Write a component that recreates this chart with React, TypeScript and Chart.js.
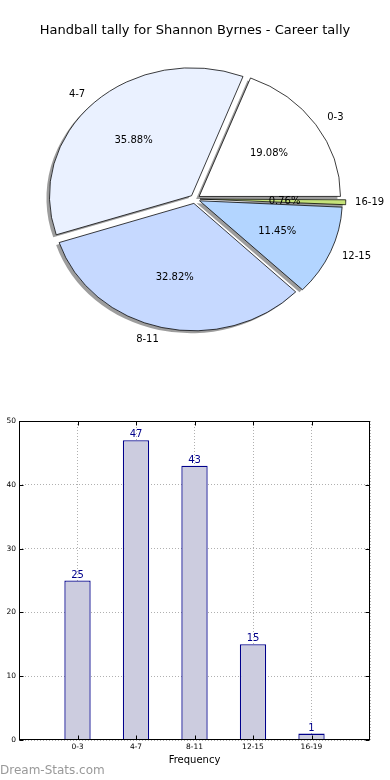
import React, { useEffect, useRef } from 'react';
import { Chart, registerables } from 'chart.js';

Chart.register(...registerables);

// ---- data ----
const categories = ['0-3', '4-7', '8-11', '12-15', '16-19'];
const counts = [25, 47, 43, 15, 1];
const sliceColors = ['#ffffff', '#eaf1ff', '#c6d9ff', '#b3d5ff', '#c5e27a'];
const yTicks = [0, 10, 20, 30, 40, 50];
const titleText = 'Handball tally for Shannon Byrnes - Career tally';
const xAxisTitle = 'Frequency';
const watermark = 'Dream-Stats.com';

const FONT = '"DejaVu Sans", sans-serif';
const Y_SCALE = 0.9;
const SHADOW_DX = -3;
const SHADOW_DY = 2.5;

// matplotlib draws counter-clockwise from 3 o'clock; Chart.js clockwise -> reverse order
const pieLabels = [...categories].reverse();
const pieValues = [...counts].reverse();
const pieColors = [...sliceColors].reverse();
const total = counts.reduce((a, b) => a + b, 0);

const piePlugin = {
  id: 'pieEllipse',
  beforeDatasetsDraw(chart: any) {
    const meta = chart.getDatasetMeta(0);
    const el0 = meta.data[0];
    const ctx = chart.ctx;
    ctx.save();
    ctx.translate(el0.x, el0.y);
    ctx.scale(1, Y_SCALE);
    ctx.translate(-el0.x, -el0.y);
    // shadow pass: each wedge shape, offset, filled grey
    ctx.save();
    ctx.translate(SHADOW_DX, SHADOW_DY / Y_SCALE);
    meta.data.forEach((el: any) => {
      const orig = el.options;
      el.options = Object.assign(Object.create(orig), {
        backgroundColor: 'rgba(60,60,60,0.5)',
        borderWidth: 0,
      });
      el.draw(ctx);
      el.options = orig;
    });
    ctx.restore();
  },
  afterDatasetsDraw(chart: any) {
    const ctx = chart.ctx;
    ctx.restore();
    const meta = chart.getDatasetMeta(0);
    ctx.save();
    ctx.fillStyle = '#000';
    ctx.font = `10px ${FONT}`;
    ctx.textBaseline = 'middle';
    meta.data.forEach((el: any, i: number) => {
      const { x, y, startAngle, endAngle, outerRadius } = el.getProps(
        ['x', 'y', 'startAngle', 'endAngle', 'outerRadius'],
        true
      );
      const shift = (el.options.offset || 0) / 4;
      const mid = (startAngle + endAngle) / 2;
      const c = Math.cos(mid);
      const s = Math.sin(mid);
      const ox = x + c * shift;
      const oy = y + s * shift;
      const at = (f: number) => [ox + c * f * outerRadius, y + (oy - y + s * f * outerRadius) * Y_SCALE];
      const [lx, ly] = at(1.1);
      ctx.textAlign = c > 0 ? 'left' : 'right';
      ctx.fillText(pieLabels[i], lx, ly);
      const [px, py] = at(0.6);
      ctx.textAlign = 'center';
      ctx.fillText(((pieValues[i] / total) * 100).toFixed(2) + '%', px, py);
    });
    ctx.restore();
  },
};

const barPlugin = {
  id: 'barExtras',
  afterDatasetsDraw(chart: any) {
    const ctx = chart.ctx;
    const meta = chart.getDatasetMeta(0);
    ctx.save();
    ctx.font = `10px ${FONT}`;
    ctx.fillStyle = '#00008b';
    ctx.textAlign = 'center';
    ctx.textBaseline = 'alphabetic';
    meta.data.forEach((bar: any, i: number) => {
      ctx.fillText(String(counts[i]), bar.x, bar.y - 3);
    });
    ctx.restore();
  },
  afterDraw(chart: any) {
    const ctx = chart.ctx;
    const { left, top, right, bottom } = chart.chartArea;
    const xs = chart.scales.x;
    const ys = chart.scales.y;
    ctx.save();
    ctx.strokeStyle = '#000';
    ctx.lineWidth = 1;
    const L = Math.round(left) + 0.5;
    const R = Math.round(right) - 0.5;
    const T = Math.round(top) + 0.5;
    const B = Math.round(bottom) - 0.5;
    ctx.beginPath();
    yTicks.forEach((v) => {
      const py = Math.round(ys.getPixelForValue(v)) + 0.5;
      ctx.moveTo(L, py);
      ctx.lineTo(L + 4, py);
      ctx.moveTo(R, py);
      ctx.lineTo(R - 4, py);
    });
    categories.forEach((_, i) => {
      const px = Math.round(xs.getPixelForValue(i)) + 0.5;
      ctx.moveTo(px, B);
      ctx.lineTo(px, B - 4);
      ctx.moveTo(px, T);
      ctx.lineTo(px, T + 4);
    });
    ctx.stroke();
    ctx.strokeRect(L, T, R - L, B - T);
    ctx.restore();
  },
};

export default function App() {
  const pieRef = useRef<HTMLCanvasElement>(null);
  const barRef = useRef<HTMLCanvasElement>(null);

  useEffect(() => {
    const pie = new Chart(pieRef.current as HTMLCanvasElement, {
      type: 'pie',
      data: {
        labels: pieLabels,
        datasets: [
          {
            data: pieValues,
            backgroundColor: pieColors,
            borderColor: '#000',
            borderWidth: 0.8,
            borderJoinStyle: 'miter',
            offset: 20,
            clip: false,
          } as any,
        ],
      },
      options: {
        animation: false,
        responsive: false,
        rotation: 90,
        radius: 141,
        layout: { padding: { top: 0, bottom: 2, left: 0, right: 0 } },
        plugins: { legend: { display: false }, tooltip: { enabled: false }, title: { display: false } },
      } as any,
      plugins: [piePlugin],
    });

    const bar = new Chart(barRef.current as HTMLCanvasElement, {
      type: 'bar',
      data: {
        datasets: [
          {
            data: counts.map((v, i) => ({ x: i, y: v })),
            backgroundColor: '#ccccdf',
            borderColor: '#00008b',
            borderWidth: 1.3,
            barPercentage: 0.45,
            categoryPercentage: 1,
          } as any,
        ],
      },
      options: {
        animation: false,
        responsive: false,
        layout: { padding: { top: 21, right: 20, left: 0, bottom: 0 } },
        plugins: { legend: { display: false }, tooltip: { enabled: false } },
        scales: {
          x: {
            type: 'linear',
            min: -1,
            max: 5,
            offset: false,
            afterFit: (s: any) => {
              s.height = 40;
            },
            ticks: {
              stepSize: 1,
              autoSkip: false,
              maxRotation: 0,
              padding: 3,
              color: '#000',
              font: { family: FONT, size: 7.5 },
              callback: (v: any) => (categories[v as number] !== undefined ? categories[v as number] : ''),
            },
            grid: { color: '#b0b0b0', lineWidth: 1, drawTicks: false, offset: false },
            border: { display: false, dash: [1, 2] },
            title: {
              display: true,
              text: xAxisTitle,
              color: '#000',
              font: { family: FONT, size: 10 },
              padding: { top: 0, bottom: 14 },
            },
          },
          y: {
            min: 0,
            max: 50,
            afterFit: (s: any) => {
              s.width = 19;
            },
            ticks: {
              stepSize: 10,
              padding: 3,
              color: '#000',
              font: { family: FONT, size: 7.5 },
            },
            grid: { color: '#b0b0b0', lineWidth: 1, drawTicks: false },
            border: { display: false, dash: [1, 2] },
          },
        },
      } as any,
      plugins: [barPlugin],
    });

    return () => {
      pie.destroy();
      bar.destroy();
    };
  }, []);

  return (
    <div
      style={{
        position: 'absolute',
        left: 0,
        top: 0,
        width: 390,
        height: 780,
        background: '#fff',
        overflow: 'hidden',
      }}
    >
      <canvas ref={pieRef} width={390} height={400} style={{ position: 'absolute', left: 0, top: 0 }} />
      <canvas ref={barRef} width={390} height={380} style={{ position: 'absolute', left: 0, top: 400 }} />
      <div
        style={{
          position: 'absolute',
          top: 22,
          left: 0,
          width: 390,
          textAlign: 'center',
          fontFamily: FONT,
          fontSize: 13,
          lineHeight: '16px',
          color: '#000',
        }}
      >
        {titleText}
      </div>
      <div
        style={{
          position: 'absolute',
          top: 763,
          left: 0,
          fontFamily: FONT,
          fontSize: 12,
          lineHeight: '14px',
          color: '#999',
        }}
      >
        {watermark}
      </div>
    </div>
  );
}
